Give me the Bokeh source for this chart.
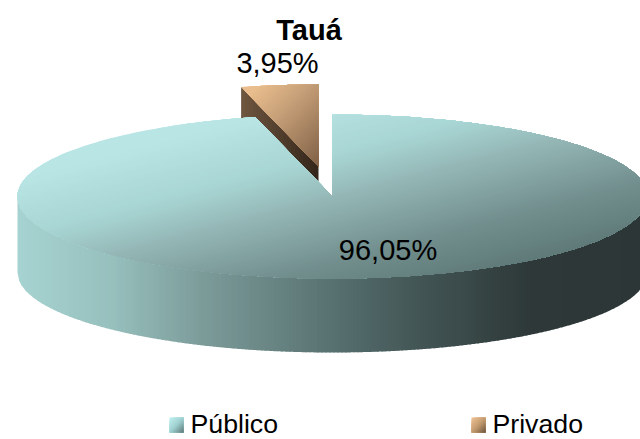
import numpy as np
from bokeh.embed import file_html
from bokeh.resources import INLINE
from bokeh.plotting import figure
from bokeh.models import Range1d
from bokeh.core.properties import value

title = "Tauá"
categories = ["Público", "Privado"]
shares = [96.05, 3.95]

W, H = 640, 439
CX, CY, RX, RY = 332.0, 196.0, 315.0, 82.0
CY_LOW, RY_LOW = 272.0, 80.0
EXPLODE = (-14.0, -30.0)
TEXT_SHIFT = 0.37
LEGEND_UP = 5

def hex2rgb(h):
    return np.array([int(h[i:i + 2], 16) for i in (1, 3, 5)], float)

def ramp(t, stops):
    ts = [s[0] for s in stops]
    cols = np.array([hex2rgb(s[1]) for s in stops])
    c = [np.interp(t, ts, cols[:, i]) for i in range(3)]
    return "#%02x%02x%02x" % tuple(int(round(v)) for v in c)

def clip(poly, a, b, c):
    out = []
    n = len(poly)
    for i in range(n):
        p, q = poly[i], poly[(i + 1) % n]
        dp = a * p[0] + b * p[1] - c
        dq = a * q[0] + b * q[1] - c
        if dp >= 0:
            out.append(p)
        if dp * dq < 0:
            s = dp / (dp - dq)
            out.append((p[0] + s * (q[0] - p[0]), p[1] + s * (q[1] - p[1])))
    return out

def gradient_fill(p, poly, bbox, stops, n=70):
    x0, x1, y0, y1 = bbox
    a, b = 1 / (x1 - x0), 1 / (y1 - y0)
    off = a * x0 + b * y0
    ts = [a * x + b * y - off for x, y in poly]
    edges = np.linspace(min(ts), max(ts), n + 1)
    xs, ys, cols = [], [], []
    for k in range(n):
        piece = clip(poly, a, b, edges[k] + off) if k else poly
        if len(piece) < 3:
            continue
        xs.append([q[0] for q in piece])
        ys.append([q[1] for q in piece])
        cols.append(ramp((edges[k] + edges[k + 1]) / 2, stops))
    p.patches(xs, ys, fill_color=cols, line_color=None)

def rim(phi, ox=0.0, oy=0.0):
    return (CX + ox + RX * np.sin(phi), CY + oy - RY * np.cos(phi))

p = figure(width=W, height=H, output_backend="svg", toolbar_location=None,
           x_range=Range1d(0, W), y_range=Range1d(H, 0),
           x_axis_location=None, y_axis_location=None,
           min_border=0, outline_line_color=None, background_fill_color="white")
p.grid.visible = False

total = sum(shares)
phi_split = 2 * np.pi * shares[0] / total

ox, oy = EXPLODE
apex = (CX + ox, CY + oy)
r0 = rim(phi_split, ox, oy)
drop = CY_LOW - CY
fx, fc = np.linspace(r0[0], apex[0], 21), []
k = (apex[1] - r0[1]) / (apex[0] - r0[0])
for a, b in zip(fx[:-1], fx[1:]):
    b2 = min(b + 1.0, apex[0])
    ya, yb = r0[1] + k * (a - r0[0]), r0[1] + k * (b2 - r0[0])
    fc.append(([a, b2, b2, a], [ya, yb, yb + drop, ya + drop],
               ramp((a + b) / 2, [(r0[0], "#705640"), (apex[0], "#33261a")])))
p.patches([c[0] for c in fc], [c[1] for c in fc], fill_color=[c[2] for c in fc], line_color=None)
pts = [apex] + [rim(f, ox, oy) for f in np.linspace(phi_split, 2 * np.pi, 30)]
gradient_fill(p, pts, (r0[0], apex[0], r0[1], apex[1]),
              [(0.2, "#e9bd8d"), (0.8, "#c9a27a"), (1.9, "#85654a")], n=40)

wall_stops = [(17, "#a6d3d1"), (110, "#97c0bd"), (200, "#7c9c9a"), (350, "#536b6b"),
              (420, "#435555"), (530, "#2e3838"), (650, "#2c3636")]
xe = np.arange(CX - RX, CX + RX + 4, 4.0)
wx, wy, wc = [], [], []
for a, b in zip(xe[:-1], xe[1:]):
    b2 = min(b + 1.0, CX + RX)
    sx = np.linspace(a, b2, 4)
    u = np.clip((sx - CX) / RX, -1, 1)
    arc = np.sqrt(1 - u * u)
    wx.append(list(sx) + list(sx[::-1]))
    wy.append(list(CY + RY * arc) + list((CY_LOW + RY_LOW * arc)[::-1]))
    wc.append(ramp((a + b) / 2, wall_stops))
p.patches(wx, wy, fill_color=wc, line_color=None)

top = [(CX, CY)] + [rim(f) for f in np.linspace(0, phi_split, 240)]
gradient_fill(p, top, (CX - RX, CX + RX, CY - RY, CY + RY),
              [(0.4, "#b9e5e5"), (0.75, "#a8d6d4"), (1.0, "#95b8b7"),
               (1.4, "#728f8e"), (1.7, "#5f7a79")], n=90)

font = value("Liberation Sans")
labels = [f"{v:.2f}".replace(".", ",") + "%" for v in shares]

def label(x, y, s, size, align="center", style="normal"):
    p.text([x], [y - TEXT_SHIFT * size], text=[s], text_font=font, text_font_size=f"{size}px",
           text_font_style=style, text_align=align, text_baseline="alphabetic", text_color="black")

label(308.5, 40, title, 29, style="bold")
label(277, 73, labels[1], 29)
label(387.5, 260, labels[0], 29)

legend_x = [169, 471]
legend_stops = [
    [(0.0, "#c3f0f0"), (1.0, "#9fd0d0"), (2.0, "#5f7a79")],
    [(0.0, "#f0c498"), (1.0, "#c49c70"), (2.0, "#6f5540")],
]
for x, name, st in zip(legend_x, categories, legend_stops):
    y0 = 422 - LEGEND_UP
    sq = [(x, y0), (x + 14, y0), (x + 14, y0 + 15), (x, y0 + 15)]
    gradient_fill(p, sq, (x, x + 14, y0, y0 + 15), st, n=14)
    label(x + 21, 438 - LEGEND_UP, name, 26.7, align="left")

open("out.html", "w").write(file_html(p, INLINE))
